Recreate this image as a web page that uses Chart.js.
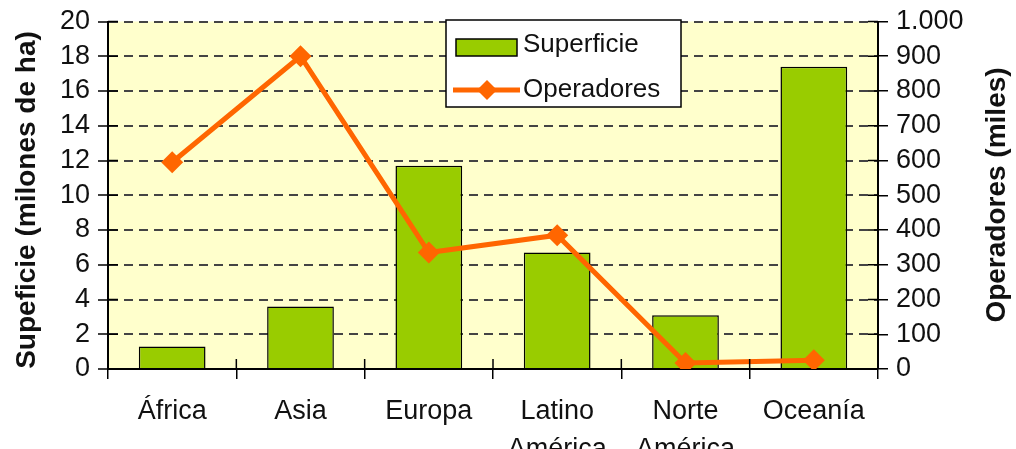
<!DOCTYPE html>
<html>
<head>
<meta charset="utf-8">
<script src="https://cdn.jsdelivr.net/npm/chart.js@4"></script>
<style>
  html, body { margin: 0; padding: 0; background: #fff; }
  #wrap { width: 1016px; height: 449px; }
</style>
</head>
<body>
<div id="wrap"><canvas id="myChart" width="1016" height="449"></canvas></div>
<script>
// datos
var regiones = ['África', 'Asia', 'Europa', ['Latino', 'América'], ['Norte', 'América'], 'Oceanía'];
var superficie = [1.3, 3.6, 11.7, 6.7, 3.1, 17.4];
var operadores = [595, 900, 335, 385, 17, 25];
var ticksIzq = [0, 2, 4, 6, 8, 10, 12, 14, 16, 18, 20];
var ticksDer = [0, 100, 200, 300, 400, 500, 600, 700, 800, 900, 1000];
var tituloIzq = 'Supeficie (milones de ha)';
var tituloDer = 'Operadores (miles)';

var fuente = '"Liberation Sans", Arial, sans-serif';

function tituloVertical(c, texto, x, y) {
  c.save();
  c.translate(x, y);
  c.rotate(-Math.PI / 2);
  c.fillStyle = '#111';
  c.font = 'bold 28px ' + fuente;
  c.textAlign = 'center';
  c.textBaseline = 'middle';
  c.fillText(texto, 0, 0);
  c.restore();
}

// fondo amarillo, marcas interiores, titulos y leyenda
var extras = {
  id: 'extras',
  beforeDraw: function (chart) {
    var a = chart.chartArea, c = chart.ctx;
    c.save();
    c.fillStyle = '#FFFFCC';
    c.fillRect(a.left, a.top, a.right - a.left, a.bottom - a.top);
    c.restore();
  },
  afterDraw: function (chart) {
    var a = chart.chartArea, c = chart.ctx;
    var yl = chart.scales.y, yr = chart.scales.y2, x = chart.scales.x;
    c.save();
    c.strokeStyle = '#000';
    c.lineWidth = 1.5;
    c.beginPath();
    ticksIzq.forEach(function (v) {
      var p = yl.getPixelForValue(v);
      c.moveTo(a.left, p); c.lineTo(a.left + 10, p);
    });
    ticksDer.forEach(function (v) {
      var p = yr.getPixelForValue(v);
      c.moveTo(a.right - 10, p); c.lineTo(a.right, p);
    });
    for (var i = 1; i < regiones.length; i++) {
      var px = (x.getPixelForValue(i - 1) + x.getPixelForValue(i)) / 2;
      c.moveTo(px, a.bottom); c.lineTo(px, a.bottom - 10);
    }
    c.stroke();

    tituloVertical(c, tituloIzq, 27, 200);
    tituloVertical(c, tituloDer, 997, 195);

    // leyenda
    var lx = 446, ly = 20, lw = 235, lh = 87;
    c.fillStyle = '#fff';
    c.fillRect(lx, ly, lw, lh);
    c.lineWidth = 1.5;
    c.strokeRect(lx, ly, lw, lh);
    c.fillStyle = '#99CC00';
    c.fillRect(456, 39, 61, 17);
    c.strokeRect(456, 39, 61, 17);
    c.strokeStyle = '#FF6600';
    c.lineWidth = 5;
    c.beginPath();
    c.moveTo(453, 90); c.lineTo(520, 90);
    c.stroke();
    c.fillStyle = '#FF6600';
    c.beginPath();
    c.moveTo(487, 80); c.lineTo(497, 90); c.lineTo(487, 100); c.lineTo(477, 90);
    c.closePath(); c.fill();
    c.fillStyle = '#111';
    c.font = '26px ' + fuente;
    c.textBaseline = 'middle';
    c.fillText(chart.data.datasets[0].label, 523, 45);
    c.fillText(chart.data.datasets[1].label, 523, 90);
    c.restore();
  }
};

new Chart(document.getElementById('myChart'), {
  type: 'bar',
  data: {
    labels: regiones,
    datasets: [{
      type: 'bar',
      label: 'Superficie',
      data: superficie,
      yAxisID: 'y',
      backgroundColor: '#99CC00',
      borderColor: '#000',
      borderWidth: 1.5,
      categoryPercentage: 1,
      barPercentage: 0.52,
      order: 1
    }, {
      type: 'line',
      label: 'Operadores',
      data: operadores,
      yAxisID: 'y2',
      borderColor: '#FF6600',
      backgroundColor: '#FF6600',
      borderWidth: 5,
      pointStyle: 'rectRot',
      pointRadius: 11,
      pointHoverRadius: 11,
      pointBorderWidth: 0,
      tension: 0,
      order: 0
    }]
  },
  options: {
    responsive: false,
    animation: false,
    devicePixelRatio: 1,
    layout: { padding: { top: 19, left: 0, right: 0, bottom: 0 } },
    plugins: { legend: { display: false }, tooltip: { enabled: false } },
    scales: {
      x: {
        afterFit: function (s) { s.height = 80; },
        grid: { offset: true, drawOnChartArea: false, color: '#000', lineWidth: 1.5, tickLength: 10 },
        border: { color: '#000', width: 2 },
        ticks: { color: '#111', padding: 14, maxRotation: 0, autoSkip: false, font: { family: fuente, size: 27, lineHeight: 1.4 } }
      },
      y: {
        position: 'left',
        min: 0, max: 20,
        afterFit: function (s) { s.width = 108; },
        afterBuildTicks: function (s) { s.ticks = ticksIzq.map(function (v) { return { value: v }; }); },
        grid: { color: '#444', lineWidth: 2, tickLength: 10, tickColor: '#000', tickWidth: 1.5 },
        border: { color: '#000', width: 2, dash: [9, 6] },
        ticks: { color: '#111', padding: 8, autoSkip: false, font: { family: fuente, size: 27, lineHeight: 1 } }
      },
      y2: {
        position: 'right',
        min: 0, max: 1000,
        afterFit: function (s) { s.width = 138; },
        afterBuildTicks: function (s) { s.ticks = ticksDer.map(function (v) { return { value: v }; }); },
        grid: { drawOnChartArea: false, tickLength: 10, color: '#000', lineWidth: 1.5 },
        border: { color: '#000', width: 2 },
        ticks: {
          color: '#111', padding: 8, autoSkip: false, font: { family: fuente, size: 27, lineHeight: 1 },
          callback: function (v) { return v === 1000 ? '1.000' : String(v); }
        }
      }
    }
  },
  plugins: [extras]
});
</script>
</body>
</html>
